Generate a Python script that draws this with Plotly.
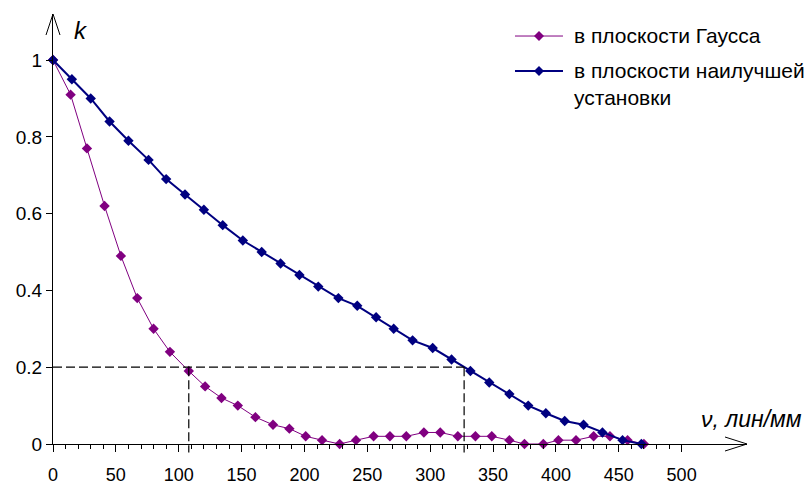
import plotly.graph_objects as go

# Spatial frequency (lines/mm) and contrast k in the Gaussian image plane
nu_gauss = [0, 14, 27, 41, 54, 67, 80, 93, 108, 121, 134, 147, 161, 175, 188, 201,
            214, 228, 241, 255, 268, 281, 295, 308, 322, 336, 349, 363, 375, 390,
            402, 416, 430, 443, 457, 470]
k_gauss = [1.00, 0.91, 0.77, 0.62, 0.49, 0.38, 0.30, 0.24, 0.19, 0.15, 0.12, 0.10,
           0.07, 0.05, 0.04, 0.02, 0.01, 0.00, 0.01, 0.02, 0.02, 0.02, 0.03, 0.03,
           0.02, 0.02, 0.02, 0.01, 0.00, 0.00, 0.01, 0.01, 0.02, 0.02, 0.01, 0.00]

# Spatial frequency (lines/mm) and contrast k in the plane of best focus
nu_best = [0, 15, 30, 45, 60, 76, 90, 105, 120, 135, 151, 166, 181, 196, 211, 227,
           242, 257, 271, 286, 302, 317, 332, 347, 363, 378, 392, 407, 422, 437,
           453, 468]
k_best = [1.00, 0.95, 0.90, 0.84, 0.79, 0.74, 0.69, 0.65, 0.61, 0.57, 0.53, 0.50,
          0.47, 0.44, 0.41, 0.38, 0.36, 0.33, 0.30, 0.27, 0.25, 0.22, 0.19, 0.16,
          0.13, 0.10, 0.08, 0.06, 0.05, 0.03, 0.01, 0.00]

# Threshold contrast and the resolution reached in each plane
k_threshold = 0.2
nu_limit = [108, 327]

series_names = ["в плоскости Гаусса", "в плоскости наилучшей<br>установки"]
series_colors = ["#800080", "#000080"]

x_ticks = [0, 50, 100, 150, 200, 250, 300, 350, 400, 450, 500]
y_ticks = [0, 0.2, 0.4, 0.6, 0.8, 1.0]
y_tick_text = ["0", "0.2", "0.4", "0.6", "0.8", "1"]

X_RANGE = [0, 552]
Y_RANGE = [0, 1.12]
FONT = "Liberation Sans, Arial, sans-serif"


def dom_x(v):
    return (v - X_RANGE[0]) / (X_RANGE[1] - X_RANGE[0])


def dom_y(v):
    return (v - Y_RANGE[0]) / (Y_RANGE[1] - Y_RANGE[0])


fig = go.Figure()
fig.add_trace(go.Scatter(
    x=nu_gauss, y=k_gauss, mode="lines+markers", name=series_names[0],
    line=dict(color=series_colors[0], width=1),
    marker=dict(symbol="diamond", size=8, color=series_colors[0]),
    cliponaxis=False, showlegend=False))
fig.add_trace(go.Scatter(
    x=nu_best, y=k_best, mode="lines+markers", name=series_names[1],
    line=dict(color=series_colors[1], width=2),
    marker=dict(symbol="diamond", size=8, color=series_colors[1]),
    cliponaxis=False, showlegend=False))

shapes = []
dash = dict(color="black", width=1.2, dash="9px,4px")
# horizontal threshold line and the two resolution drop lines
shapes.append(dict(type="line", xref="x domain", yref="y domain",
                   x0=dom_x(0), x1=dom_x(nu_limit[1]),
                   y0=dom_y(k_threshold), y1=dom_y(k_threshold), line=dash))
for nu in nu_limit:
    shapes.append(dict(type="line", xref="x domain", yref="y domain",
                       x0=dom_x(nu), x1=dom_x(nu),
                       y0=dom_y(k_threshold), y1=-0.02, line=dash))

# open arrowheads at the ends of both axes
arrow = dict(color="black", width=1)
shapes.append(dict(type="path", xref="x domain", yref="y domain",
                   xsizemode="pixel", ysizemode="pixel", xanchor=0, yanchor=1,
                   path="M-7,-21 L0,0 L7,-21", line=arrow))
shapes.append(dict(type="path", xref="x domain", yref="y domain",
                   xsizemode="pixel", ysizemode="pixel", xanchor=1, yanchor=0,
                   path="M-22,7 L0,0 L-22,-7", line=arrow))

# legend keys
legend_x = 0.6657   # start of key line (paper)
legend_text_x = 0.7478
legend_rows = [0.9488, 0.8674]
annotations = []
for i, (name, color) in enumerate(zip(series_names, series_colors)):
    yr = legend_rows[i]
    shapes.append(dict(type="line", xref="paper", yref="paper",
                       xsizemode="pixel", xanchor=legend_x,
                       x0=0, x1=48, y0=yr, y1=yr,
                       line=dict(color=color, width=1 if i == 0 else 2)))
    shapes.append(dict(type="path", xref="paper", yref="paper",
                       xsizemode="pixel", ysizemode="pixel",
                       xanchor=legend_x, yanchor=yr,
                       path="M24,5 L29,0 L24,-5 L19,0 Z",
                       fillcolor=color, line=dict(color=color, width=0)))
    annotations.append(dict(xref="paper", yref="paper", x=legend_text_x, y=yr,
                            xanchor="left", yanchor="top", yshift=14,
                            text=name, showarrow=False, align="left",
                            font=dict(family=FONT, size=21, color="black")))

annotations.append(dict(xref="x", yref="y", x=22, y=1.078, text="k",
                        showarrow=False, xanchor="center", yanchor="middle",
                        font=dict(family=FONT, size=24, color="black", style="italic")))
annotations.append(dict(xref="paper", yref="paper", x=1.0822, y=0.058,
                        text="ν, лин/мм", showarrow=False,
                        xanchor="right", yanchor="middle",
                        font=dict(family=FONT, size=23, color="black", style="italic")))

axis_common = dict(showline=True, linecolor="black", linewidth=1,
                   ticks="outside", tickcolor="black", tickwidth=1,
                   showgrid=False, zeroline=False, automargin=False)

fig.update_layout(
    width=808, height=486,
    margin=dict(l=53, r=61, t=14, b=42, pad=0),
    paper_bgcolor="white", plot_bgcolor="white",
    xaxis=dict(range=X_RANGE, tickvals=x_ticks, ticktext=[str(v) for v in x_ticks],
               ticklen=7, ticklabelstandoff=7,
               tickfont=dict(family=FONT, size=18, color="black"),
               minor=dict(tickvals=[v for v in range(10, 500, 10) if v % 50],
                          ticks="outside", ticklen=4, tickcolor="black",
                          tickwidth=1, showgrid=False),
               **axis_common),
    yaxis=dict(range=Y_RANGE, tickvals=y_ticks, ticktext=y_tick_text, ticklen=6,
               tickfont=dict(family=FONT, size=19, color="black"),
               **axis_common),
    shapes=shapes, annotations=annotations, showlegend=False,
)

fig.write_html("out.html")
